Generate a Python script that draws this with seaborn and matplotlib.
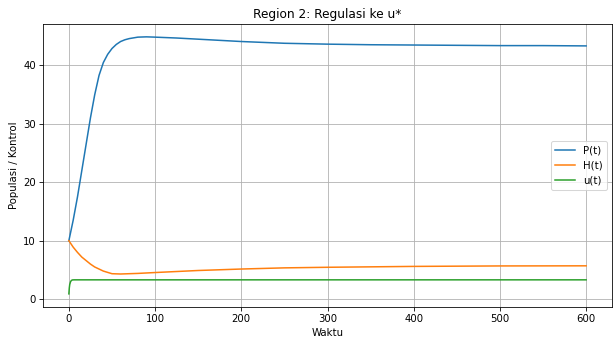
import matplotlib
matplotlib.use("Agg")
import matplotlib.pyplot as plt
import seaborn as sns
import pandas as pd

# Data
t_P = [0, 5, 10, 15, 20, 25, 30, 35, 40, 45, 50, 55, 60, 65, 70, 80, 90, 100, 125, 150, 200, 250, 300, 350, 400, 450, 500, 550, 600]
P = [10, 13.5, 17.5, 22, 26.5, 31, 35, 38.3, 40.5, 41.9, 42.9, 43.6, 44.1, 44.4, 44.6, 44.85, 44.9, 44.85, 44.7, 44.5, 44.1, 43.8, 43.65, 43.55, 43.5, 43.45, 43.4, 43.4, 43.35]

t_H = [0, 5, 10, 15, 20, 25, 30, 40, 50, 60, 80, 100, 150, 200, 250, 300, 400, 500, 600]
H = [10, 8.9, 8.0, 7.2, 6.6, 6.0, 5.5, 4.8, 4.35, 4.3, 4.4, 4.55, 4.9, 5.15, 5.35, 5.45, 5.6, 5.68, 5.7]

t_u = [0, 0.5, 1, 2, 3, 4, 6, 10, 600]
u = [0.9, 1.9, 2.5, 3.0, 3.2, 3.28, 3.3, 3.3, 3.3]

labels = ["P(t)", "H(t)", "u(t)"]

frames = []
for tt, vv, lab in [(t_P, P, labels[0]), (t_H, H, labels[1]), (t_u, u, labels[2])]:
    frames.append(pd.DataFrame({"t": tt, "v": vv, "series": lab}))
df = pd.concat(frames, ignore_index=True)

DPI = 73
fig = plt.figure(figsize=(613 / DPI, 342 / DPI), dpi=DPI)
ax = fig.add_axes([43/613, 1 - 307/342, (612 - 43)/613, (307 - 24)/342])

sns.lineplot(data=df, x="t", y="v", hue="series", hue_order=labels,
             palette=["#1f77b4", "#ff7f0e", "#2ca02c"], ax=ax, linewidth=1.5,
             sort=True, estimator=None)

ax.set_title("Region 2: Regulasi ke u*")
ax.set_xlabel("Waktu")
ax.set_ylabel("Populasi / Kontrol")
ax.set_xlim(-30, 630)
ax.set_ylim(-1.35, 47.1)
ax.grid(True)
ax.legend(loc="center right")

fig.savefig("out.png", dpi=DPI)
